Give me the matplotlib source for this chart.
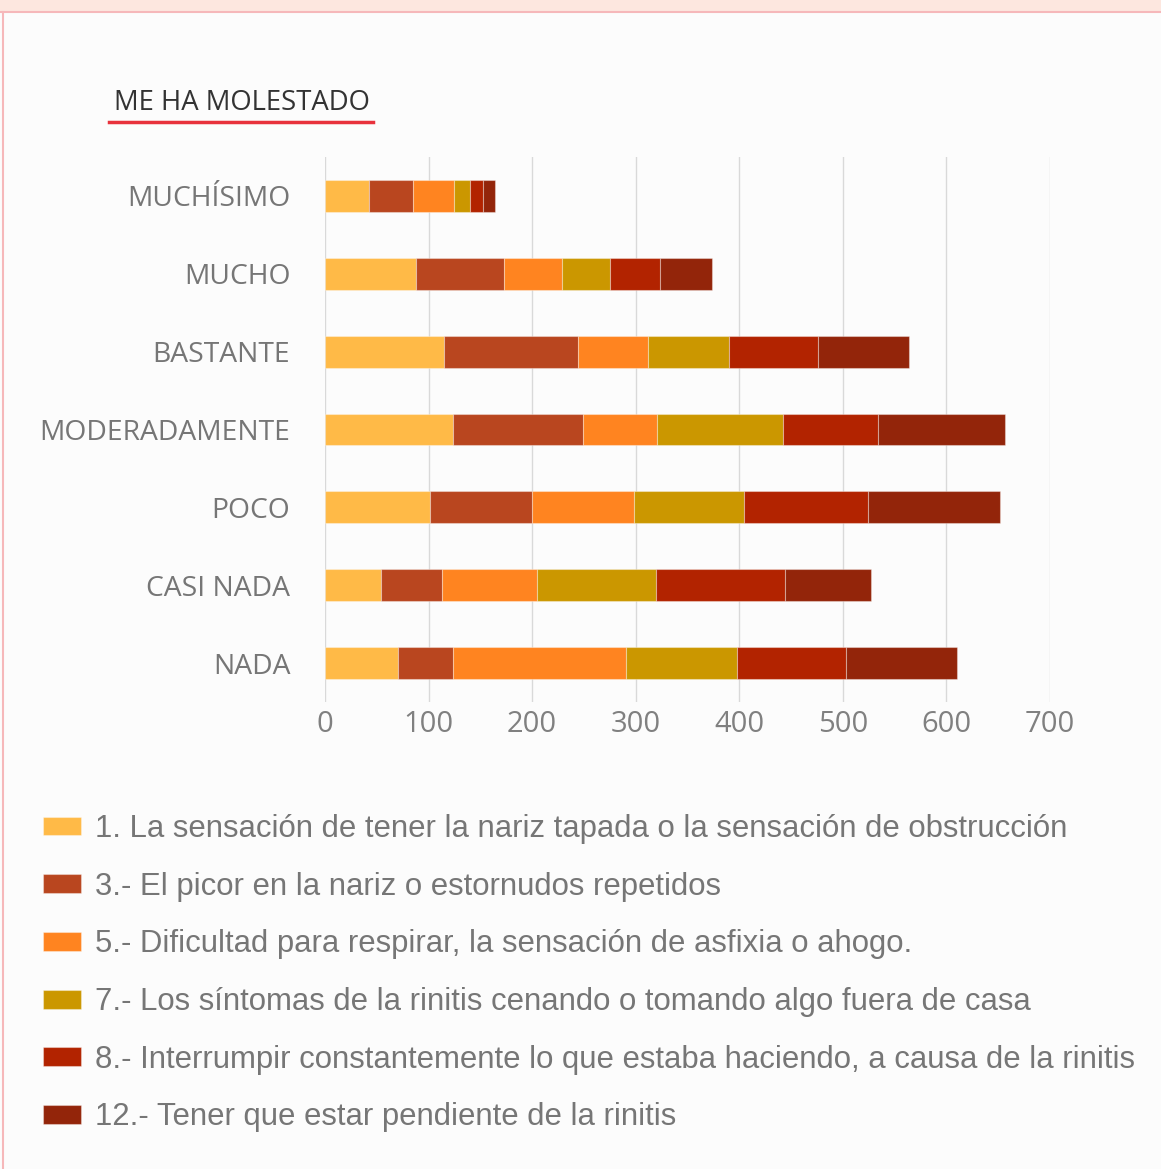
import matplotlib.pyplot as plt
from matplotlib.patches import Rectangle
from matplotlib.lines import Line2D
import numpy as np

categories = ["MUCHÍSIMO", "MUCHO", "BASTANTE", "MODERADAMENTE", "POCO", "CASI NADA", "NADA"]
series_names = [
    "1. La sensación de tener la nariz tapada o la sensación de obstrucción",
    "3.- El picor en la nariz o estornudos repetidos",
    "5.- Dificultad para respirar, la sensación de asfixia o ahogo.",
    "7.- Los síntomas de la rinitis cenando o tomando algo fuera de casa",
    "8.- Interrumpir constantemente lo que estaba haciendo, a causa de la rinitis",
    "12.- Tener que estar pendiente de la rinitis",
]
s1 = [42, 88, 115, 124, 101, 54, 70]
s3 = [43, 85, 129, 125, 99, 59, 54]
s5 = [40, 56, 68, 72, 98, 92, 167]
s7 = [15, 46, 78, 121, 107, 115, 107]
s8 = [13, 48, 86, 92, 119, 124, 105]
s12 = [11, 51, 88, 123, 128, 83, 107]
colors = ["#FFBA47", "#B9461F", "#FF8420", "#CB9700", "#B22300", "#93250A"]
xticks = [0, 100, 200, 300, 400, 500, 600, 700]

W, H = 1161, 1169
fig = plt.figure(figsize=(W / 100, H / 100), dpi=100)
fig.patch.set_facecolor("#FCFCFC")

# pink top strip and border
fig.add_artist(Rectangle((0, 1 - 11 / H), 1, 11 / H, transform=fig.transFigure,
                         facecolor="#FDE7DF", edgecolor="none"))
fig.add_artist(Line2D([0, 1], [1 - 12 / H, 1 - 12 / H], transform=fig.transFigure,
                      color="#F6B8BA", lw=1.5))
fig.add_artist(Line2D([3 / W, 3 / W], [0, 1 - 12 / H], transform=fig.transFigure,
                      color="#F6B8BA", lw=1.5))

# title with red underline
fig.text(114 / W, 1 - 103 / H, "ME HA MOLESTADO", fontsize=19.8, color="#333333",
         family="Open Sans", va="center", ha="left")
fig.add_artist(Line2D([109 / W, 373 / W], [1 - 122 / H, 1 - 122 / H],
                      transform=fig.transFigure, color="#E8323C", lw=2.5))

ax = fig.add_axes([325 / W, 1 - 702 / H, (1050 - 325) / W, (702 - 157) / H])
ax.set_facecolor("#FCFCFC")

y = np.arange(len(categories))
left = np.zeros(len(categories))
handles = []
for vals, c, name in zip([s1, s3, s5, s7, s8, s12], colors, series_names):
    b = ax.barh(y, vals, left=left, height=0.41, color=c, edgecolor=(1, 1, 1, 0.35),
                linewidth=0.8, label=name, zorder=3)
    handles.append(b)
    left += np.array(vals)

ax.set_ylim(6.5, -0.5)
ax.set_xlim(0, 700)
ax.set_xticks(xticks)
ax.set_yticks(y)
ax.set_yticklabels(categories, family="Open Sans", fontsize=20.3, color="#767676")
ax.set_xticklabels([str(t) for t in xticks], family="Open Sans", fontsize=21, color="#808080")
ax.tick_params(length=0)
ax.tick_params(axis="y", pad=25)
ax.tick_params(axis="x", pad=6)
for s in ax.spines.values():
    s.set_visible(False)
ax.grid(axis="x", color="#D9D9D9", lw=1, zorder=0)

fig.legend(handles=handles, loc="upper left", bbox_to_anchor=(43 / W, 1 - 814 / H),
           frameon=False, handlelength=1.23, handleheight=0.56,
           handletextpad=0.43, labelspacing=0.89, labelcolor="#767676",
           borderaxespad=0, borderpad=0,
           prop={"family": "Liberation Sans", "size": 22.4})

fig.savefig("out.png", dpi=100, facecolor=fig.get_facecolor())
